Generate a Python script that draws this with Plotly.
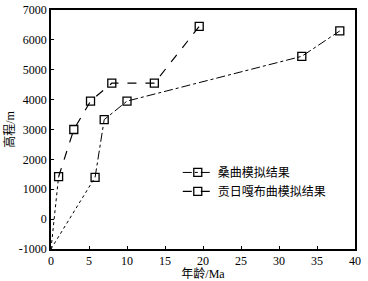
import plotly.graph_objects as go

# Data
sangqu_age = [5.8, 7.0, 10.0, 33.0, 38.0]
sangqu_elev = [1400, 3330, 3950, 5450, 6300]
gongri_age = [1.0, 3.0, 5.2, 8.0, 13.6, 19.5]
gongri_elev = [1420, 3000, 3950, 4550, 4550, 6450]
origin_age = 0.0
origin_elev = -1000

x_ticks = [0, 5, 10, 15, 20, 25, 30, 35, 40]
y_ticks = [-1000, 0, 1000, 2000, 3000, 4000, 5000, 6000, 7000]

FONT = "Liberation Serif, Noto Sans CJK SC, serif"

fig = go.Figure()

# dotted initial segments
fig.add_trace(go.Scatter(x=[origin_age, sangqu_age[0]], y=[origin_elev, sangqu_elev[0]],
                         mode="lines", line=dict(color="black", width=1, dash="dot"),
                         showlegend=False, hoverinfo="skip"))
fig.add_trace(go.Scatter(x=[origin_age, gongri_age[0]], y=[origin_elev, gongri_elev[0]],
                         mode="lines", line=dict(color="black", width=1, dash="dot"),
                         showlegend=False, hoverinfo="skip"))

fig.add_trace(go.Scatter(x=sangqu_age, y=sangqu_elev, mode="lines+markers",
                         name="桑曲模拟结果",
                         line=dict(color="black", width=1, dash="dashdot"),
                         marker=dict(symbol="square-open", size=8, color="black",
                                     line=dict(width=1.3, color="black"))))
fig.add_trace(go.Scatter(x=gongri_age, y=gongri_elev, mode="lines+markers",
                         name="贡日嘎布曲模拟结果",
                         line=dict(color="black", width=1.2, dash="dash"),
                         marker=dict(symbol="square-open", size=8, color="black",
                                     line=dict(width=1.3, color="black"))))

axis_common = dict(showline=True, linecolor="black", linewidth=1.5, mirror=True,
                   ticks="inside", ticklen=3, tickcolor="black", showgrid=False,
                   zeroline=False, automargin=False,
                   tickfont=dict(family=FONT, size=12, color="black"))

fig.update_xaxes(range=[0, 40], tickvals=x_ticks, ticktext=[str(v) for v in x_ticks],
                 title=dict(text="年龄/Ma", font=dict(family=FONT, size=12, color="black"),
                            standoff=0),
                 ticklabelstandoff=0,
                 **axis_common)
fig.update_yaxes(range=[-1000, 7000], tickvals=y_ticks, ticktext=[str(v) for v in y_ticks],
                 title=dict(text="高程/m", font=dict(family=FONT, size=12, color="black"),
                            standoff=2),
                 ticklabelstandoff=0,
                 **axis_common)

fig.update_layout(
    width=368, height=281,
    margin=dict(l=51, r=13, t=10, b=32),
    paper_bgcolor="white", plot_bgcolor="white",
    font=dict(family=FONT, size=12, color="black"),
    legend=dict(x=0.417, y=0.381, xanchor="left", yanchor="top",
                bgcolor="rgba(0,0,0,0)", font=dict(family=FONT, size=12, color="black"),
                tracegroupgap=0, itemwidth=30),
)

fig.write_html("out.html", config={"displayModeBar": False},
               post_script="document.body.style.margin='0';")
